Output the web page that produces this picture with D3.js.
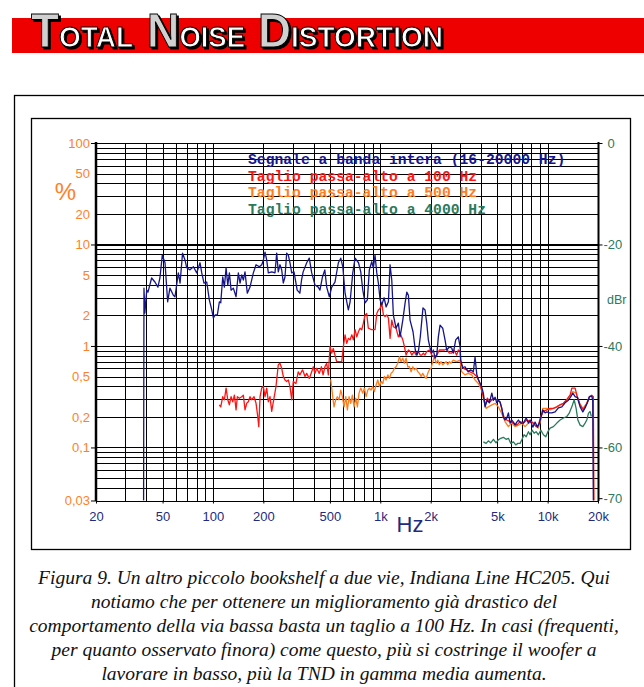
<!DOCTYPE html>
<html lang="it">
<head>
<meta charset="UTF-8">
<script src="https://cdn.jsdelivr.net/npm/d3@7"></script>
<title>Total Noise Distortion</title>
<style>
    body { margin:0; background:#fff; }
    svg text { font-family:"Liberation Sans", Arial, sans-serif; }
</style>
</head>
<body>
<script>
// --- data (frequency in Hz, level in dBr; 0 dBr = 100 %) ---
const fullBand = [[38.5,-70.5],[38.7,-28.6],[39.2,-33.5],[40.2,-29.0],[40.9,-29.4],[43.0,-26.6],[45.0,-27.4],[46.9,-28.4],[48.2,-26.6],[49.8,-22.1],[51.7,-23.6],[53.6,-31.3],[55.3,-28.6],[58.0,-30.0],[59.3,-30.3],[62.1,-25.6],[63.6,-27.6],[65.8,-21.7],[68.1,-23.1],[69.7,-24.6],[72.9,-25.0],[76.4,-24.4],[80,-25.6],[83.7,-23.6],[85.7,-25.6],[88.4,-27.6],[91.8,-27.4],[95.1,-30.9],[98.4,-32.9],[100.6,-34.5],[103,-33.9],[106.2,-33.9],[109.2,-31.3],[111.3,-31.5],[114.4,-26.4],[117,-28.4],[119.8,-24.6],[122.6,-28.0],[125.4,-25.6],[128.3,-29.0],[132.4,-28.6],[137.4,-30.3],[141.8,-25.6],[145.2,-27.6],[148.6,-26.0],[151.9,-27.0],[155.4,-25.4],[160.4,-29.6],[166.5,-28.4],[174.3,-25.6],[180.9,-24.0],[189.3,-24.4],[195.7,-24.0],[200,-23.1],[204.7,-21.5],[209.6,-23.1],[214.2,-25.6],[224.6,-25.4],[234.8,-25.6],[240.4,-21.7],[245.7,-25.4],[251.5,-24.0],[257.5,-25.0],[263.2,-27.6],[269.4,-26.4],[275.8,-21.7],[282,-22.1],[288.6,-23.6],[295.5,-25.6],[305,-25.4],[318.6,-29.0],[330.6,-29.6],[338.4,-27.0],[345.9,-25.4],[363.3,-23.6],[376.3,-22.7],[389.2,-25.6],[407.2,-28.0],[425.9,-28.4],[435.9,-29.0],[451.2,-26.4],[466,-25.0],[478.3,-28.4],[496,-30.3],[512.6,-28.4],[536,-27.4],[561.6,-23.6],[580.5,-22.7],[597,-24.4],[615.9,-29.6],[644.3,-32.9],[660,-31.3],[684.7,-25.6],[706.8,-22.7],[741,-23.6],[764.3,-25.4],[786,-29.0],[811,-31.5],[837,-30.9],[860,-25.0],[889,-23.4],[908.7,-24.6],[930,-22.1],[953,-25.6],[974,-27.6],[997,-30.9],[1021,-31.9],[1054,-30.5],[1083,-32.3],[1118,-31.3],[1144,-24.0],[1171,-27.0],[1197,-33.9],[1242,-36.5],[1282,-35.5],[1313,-38.2],[1363,-34.9],[1407,-31.5],[1440,-29.4],[1472,-30.0],[1506,-34.9],[1569,-37.2],[1619,-40.8],[1657,-41.8],[1694,-40.8],[1734,-38.2],[1799,-32.5],[1851,-32.9],[1895,-35.5],[1937,-38.8],[1983,-40.4],[2031,-41.4],[2076,-40.8],[2125,-42.4],[2175,-41.8],[2223,-38.2],[2276,-35.9],[2361,-36.5],[2437,-38.8],[2495,-40.8],[2585,-40.2],[2672,-40.4],[2731,-41.4],[2823,-38.8],[2926,-38.2],[3000,-40.2],[3025,-42.8],[3108,-44.3],[3207,-44.1],[3354,-45.1],[3466,-44.7],[3597,-45.1],[3684,-42.2],[3772,-45.6],[3856,-46.6],[4039,-48.1],[4129,-49.3],[4226,-52.0],[4362,-50.7],[4483,-51.2],[4640,-49.3],[4743,-50.7],[4853,-50.1],[4966,-51.2],[5076,-50.7],[5196,-51.1],[5318,-52.2],[5436,-54.0],[5564,-54.6],[5702,-54.2],[5828,-53.2],[5967,-55.2],[6108,-54.6],[6243,-55.0],[6390,-55.6],[6542,-55.0],[6689,-54.6],[6914,-55.2],[7164,-55.2],[7443,-54.2],[7678,-55.2],[7860,-54.6],[8156,-56.0],[8413,-55.0],[8690,-56.0],[8926,-55.2],[9099,-54.2],[9352,-52.6],[9662,-53.2],[9890,-53.0],[10250,-53.2],[10600,-53.2],[11090,-53.0],[11600,-52.2],[12160,-52.0],[12720,-51.2],[13310,-50.7],[13760,-50.0],[14140,-49.3],[14600,-50.0],[15070,-50.2],[15640,-52.0],[16230,-53.0],[16740,-52.2],[17280,-51.2],[17760,-50.0],[18350,-49.9],[18600,-50.7],[18760,-70.5]];

const hp100 = [[109.2,-51.6],[111.3,-52.0],[114.4,-50.0],[117,-50.6],[119.8,-48.3],[122.6,-50.6],[125.3,-51.6],[128.3,-50.0],[131.3,-51.0],[134.3,-49.7],[137.4,-52.6],[139.9,-50.0],[143.8,-50.3],[148.6,-50.0],[151.9,-49.7],[155.5,-52.6],[159.1,-51.3],[162.7,-51.0],[166.5,-50.0],[170.4,-50.6],[176,-50.0],[180.9,-51.3],[185.2,-53.9],[187.8,-55.9],[191.2,-50.0],[195.6,-48.3],[200,-48.0],[204.7,-50.0],[209.5,-48.3],[214.2,-51.0],[219.2,-50.0],[224.4,-52.9],[231.6,-50.3],[238,-48.0],[245.7,-43.7],[251.5,-43.4],[257.5,-44.4],[263.2,-46.0],[269.4,-46.7],[275.8,-47.0],[282,-46.7],[288.6,-48.0],[295.5,-50.6],[302,-47.0],[313.1,-47.4],[323.2,-45.1],[330.6,-45.7],[343.1,-44.7],[354.9,-46.0],[363.3,-45.4],[376.3,-46.4],[389.2,-45.1],[397.8,-44.1],[407.2,-45.4],[416.8,-44.4],[431.8,-45.4],[444.9,-44.1],[455.1,-45.7],[466.8,-44.1],[478,-43.4],[489.2,-45.7],[500.7,-40.1],[512.6,-41.4],[523.9,-40.5],[536.1,-41.8],[548.7,-43.1],[569.5,-43.1],[588.6,-43.1],[601.7,-40.1],[615.9,-37.8],[630.4,-39.5],[644.3,-38.5],[660,-38.8],[675.6,-37.8],[690.5,-38.8],[706.8,-36.8],[723.4,-38.2],[740,-37.2],[756.8,-36.5],[775,-36.8],[792,-35.5],[811,-33.9],[830,-33.6],[848,-36.5],[889,-36.8],[930,-36.8],[953,-33.6],[974,-32.9],[997,-32.6],[1021,-31.6],[1044,-33.9],[1068,-34.2],[1093,-33.9],[1118,-34.5],[1144,-38.5],[1171,-34.9],[1197,-36.2],[1242,-36.5],[1282,-38.2],[1313,-37.5],[1363,-38.8],[1393,-40.1],[1426,-41.8],[1472,-40.8],[1507,-41.1],[1543,-41.8],[1593,-41.1],[1638,-41.8],[1691,-41.1],[1731,-41.8],[1769,-41.8],[1809,-41.4],[1851,-41.8],[1895,-41.1],[1964,-40.8],[2031,-41.8],[2096,-42.1],[2175,-41.8],[2254,-40.8],[2329,-40.8],[2404,-40.8],[2495,-40.6],[2585,-41.4],[2672,-41.4],[2757,-40.8],[2862,-41.8],[2926,-40.8],[3000,-41.1],[3025,-43.4],[3134,-44.4],[3283,-44.7],[3435,-45.1],[3597,-45.4],[3772,-46.0],[3945,-47.4],[4129,-50.0],[4226,-51.6],[4362,-50.3],[4530,-51.0],[4743,-50.3],[4966,-50.6],[5196,-51.0],[5362,-52.9],[5511,-54.2],[5702,-54.6],[5967,-54.9],[6243,-55.2],[6542,-55.6],[6847,-54.9],[7164,-55.2],[7515,-54.6],[7860,-54.9],[8223,-55.2],[8531,-55.9],[8805,-55.6],[9099,-53.9],[9438,-52.9],[9890,-52.6],[10350,-52.3],[10830,-52.3],[11350,-52.0],[11870,-51.6],[12430,-51.3],[13020,-50.6],[13630,-49.7],[13950,-48.3],[14600,-48.3],[14950,-49.7],[15640,-51.6],[16360,-52.6],[17140,-51.3],[17760,-50.0],[18350,-49.7],[18760,-50.0],[18890,-70.5]];

const hp500 = [[505.6,-46.6],[519.6,-50.0],[529,-52.0],[541.4,-50.6],[553.6,-50.0],[566.5,-50.6],[580.5,-48.7],[593.4,-50.0],[607.5,-52.0],[621.9,-50.0],[635.8,-52.6],[650.6,-50.0],[665.6,-51.3],[680.9,-49.7],[697,-52.0],[713.6,-50.3],[729.8,-52.0],[746.2,-49.3],[764.3,-48.3],[785.8,-49.3],[803,-48.3],[822.7,-50.0],[842,-48.7],[860.6,-48.3],[880.5,-48.7],[901,-48.0],[921.5,-49.0],[943.8,-47.7],[966,-46.7],[988,-48.0],[1011,-47.0],[1035,-47.4],[1058,-46.0],[1083,-46.7],[1109,-45.7],[1134,-46.4],[1160,-45.4],[1188,-45.1],[1214,-44.4],[1242,-44.1],[1272,-43.4],[1301,-42.1],[1331,-43.1],[1363,-42.4],[1393,-43.4],[1426,-42.4],[1460,-44.1],[1492,-44.1],[1528,-45.1],[1564,-44.1],[1599,-44.7],[1638,-44.4],[1676,-45.1],[1714,-45.4],[1752,-46.0],[1794,-45.4],[1834,-46.0],[1878,-46.4],[1922,-45.4],[1964,-44.7],[2011,-44.4],[2059,-43.1],[2105,-42.1],[2155,-43.4],[2206,-42.8],[2254,-43.7],[2308,-43.1],[2361,-43.7],[2415,-43.4],[2471,-43.1],[2530,-43.7],[2585,-43.1],[2646,-43.4],[2727,-42.8],[2862,-43.1],[3000,-42.8],[3067,-45.1],[3207,-45.7],[3354,-45.4],[3514,-45.7],[3684,-46.7],[3856,-47.4],[4039,-48.7],[4129,-50.3],[4289,-52.3],[4423,-52.0],[4640,-51.6],[4853,-51.3],[5076,-52.0],[5318,-53.3],[5564,-54.9],[5828,-55.9],[6108,-55.2],[6390,-55.9],[6689,-55.6],[7010,-55.2],[7330,-55.9],[7678,-55.2],[8044,-54.9],[8418,-55.6],[8805,-56.2],[9099,-54.6],[9352,-52.3],[9890,-52.3],[10350,-52.6],[10830,-52.3],[11350,-52.0],[11870,-51.6],[12430,-51.3],[13020,-50.6],[13630,-49.7],[14140,-49.0],[14800,-49.3],[15490,-51.3],[16230,-52.3],[17140,-51.3],[17930,-49.9],[18600,-50.0],[18860,-70.5]];

const hp4000 = [[4129,-58.9],[4289,-59.2],[4423,-58.7],[4570,-59.1],[4743,-58.4],[4918,-59.1],[5076,-58.5],[5246,-58.2],[5436,-58.0],[5645,-58.4],[5828,-58.2],[6025,-59.2],[6243,-58.9],[6450,-59.5],[6635,-59.2],[6847,-59.2],[7010,-58.5],[7233,-57.5],[7443,-57.9],[7678,-56.9],[7860,-57.5],[8078,-56.6],[8303,-57.2],[8531,-56.9],[8805,-57.5],[9099,-56.6],[9438,-57.5],[9755,-57.9],[10030,-56.9],[10350,-56.2],[10830,-55.9],[11350,-55.2],[11870,-54.6],[12430,-54.2],[13020,-53.9],[13440,-53.3],[13950,-52.0],[14410,-50.6],[14800,-52.3],[15160,-54.6],[15640,-55.6],[16230,-55.9],[16740,-55.2],[17140,-54.6],[17530,-53.3],[17930,-52.9],[18250,-53.9]];

const seriesNames = ["Segnale a banda intera (16-20000 Hz)", "Taglio passa-alto a 100 Hz", "Taglio passa-alto a 500 Hz", "Taglio passa-alto a 4000 Hz"];
const seriesColors = ["#15158a", "#ff1414", "#ff7d1e", "#2b7a5d"];

const pctTicks = [100, 50, 20, 10, 5, 2, 1, 0.5, 0.2, 0.1, 0.03];
const pctLabels = ["100", "50", "20", "10", "5", "2", "1", "0,5", "0,2", "0,1", "0,03"];
const freqTicks = [20, 50, 100, 200, 500, 1000, 2000, 5000, 10000, 20000];
const freqLabels = ["20", "50", "100", "200", "500", "1k", "2k", "5k", "10k", "20k"];
const dbTicks = [0, -20, -40, -60, -70];

const caption = [
    "Figura 9. Un altro piccolo bookshelf a due vie, Indiana Line HC205. Qui",
    "notiamo che per ottenere un miglioramento già drastico del",
    "comportamento della via bassa basta un taglio a 100 Hz. In casi (frequenti,",
    "per quanto osservato finora) come questo, più si costringe il woofer a",
    "lavorare in basso, più la TND in gamma media aumenta."
];

// --- page ---
var W = 644, H = 687;
var svg = d3.select("body").append("svg").attr("width", W).attr("height", H);

// black drop shadow for the header lettering
svg.append("defs").append("filter").attr("id", "shadow")
    .attr("x", "-10%").attr("y", "-10%").attr("width", "130%").attr("height", "130%")
    .append("feDropShadow").attr("dx", 2).attr("dy", 2).attr("stdDeviation", 0)
    .attr("flood-color", "#000").attr("flood-opacity", 1);

// header bar
svg.append("rect").attr("x", 12).attr("y", 18).attr("width", W - 12).attr("height", 35).attr("fill", "#ee0000");

var words = [["T", "OTAL", 31, 102], ["N", "OISE", 147, 98], ["D", "ISTORTION", 258, 185]];
words.forEach(function(w) {
    var t = svg.append("text")
        .attr("x", w[2]).attr("y", 47)
        .attr("textLength", w[3]).attr("lengthAdjust", "spacingAndGlyphs")
        .attr("filter", "url(#shadow)")
        .style("font-family", "'Liberation Sans Narrow','Liberation Sans',Arial")
        .style("font-weight", "bold")
        .attr("stroke", "#000").attr("stroke-width", 1);
    t.append("tspan").attr("font-size", 49).attr("fill", "#d0d0d0").text(w[0]);
    t.append("tspan").attr("font-size", 30).attr("fill", "#fff").text(w[1]);
});

// frames
svg.append("rect").attr("x", 14.5).attr("y", 95.5).attr("width", 700).attr("height", 700)
    .attr("fill", "none").attr("stroke", "#000").attr("stroke-width", 1.3);
svg.append("rect").attr("x", 31.5).attr("y", 118.5).attr("width", 599).attr("height", 431)
    .attr("fill", "none").attr("stroke", "#000").attr("stroke-width", 1.3);

// --- scales ---
var x = d3.scaleLog().domain([20, 20000]).range([96, 598]);
var yPct = d3.scaleLog().domain([0.03, 100]).range([500.5, 143]);
var yDb = d3.scaleLinear().domain([20 * Math.log10(0.03 / 100), 0]).range([500.5, 143]);

// grid
var vGrid = [], hGrid = [];
[10, 100, 1000, 10000].forEach(function(dec) {
    for (var k = 1; k <= 9; k++) { var v = dec * k; if (v >= 20 && v <= 20000) vGrid.push(v); }
});
vGrid.push(20000);
[0.01, 0.1, 1, 10].forEach(function(dec) {
    for (var k = 1; k <= 9; k++) { var v = dec * k; if (v >= 0.0299 && v <= 100) hGrid.push(+v.toPrecision(3)); }
});
hGrid.push(100);

var grid = svg.append("g").attr("stroke", "#000").attr("shape-rendering", "crispEdges");
grid.selectAll(".v").data(vGrid).enter().append("line")
    .attr("x1", d => Math.round(x(d)) + 0.5).attr("x2", d => Math.round(x(d)) + 0.5)
    .attr("y1", yPct(100)).attr("y2", yPct(0.03)).attr("stroke-width", 1);
grid.selectAll(".h").data(hGrid).enter().append("line")
    .attr("x1", x(20)).attr("x2", x(20000))
    .attr("y1", d => Math.round(yPct(d)) + 0.5).attr("y2", d => Math.round(yPct(d)) + 0.5)
    .attr("stroke-width", d => d === 10 ? 2 : 1);

// axes lines (thick)
svg.append("line").attr("x1", 96).attr("x2", 96).attr("y1", 142).attr("y2", 501)
    .attr("stroke", "#000").attr("stroke-width", 2.5);
svg.append("line").attr("x1", 598.5).attr("x2", 598.5).attr("y1", 142).attr("y2", 501)
    .attr("stroke", "#000").attr("stroke-width", 2);

// left axis: % labels
var leftAx = svg.append("g").attr("transform", "translate(96,0)")
    .call(d3.axisLeft(yPct).tickValues(pctTicks).tickSize(0).tickPadding(6)
        .tickFormat((d, i) => pctLabels[i]));
leftAx.select(".domain").remove();
leftAx.selectAll("text").attr("fill", "#ff7f2a").style("font-size", "13px");
svg.append("g").attr("transform", "translate(96,0)")
    .call(d3.axisLeft(yPct).tickValues([100, 10, 1, 0.1, 0.03]).tickSize(5).tickFormat(""))
    .call(g => g.select(".domain").remove())
    .selectAll("line").attr("stroke", "#000");
svg.append("text").attr("x", 65.5).attr("y", 200).attr("text-anchor", "middle")
    .attr("fill", "#ff7f2a").style("font-size", "24px").text("%");

// bottom axis
var botAx = svg.append("g").attr("transform", "translate(0,500.5)")
    .call(d3.axisBottom(x).tickValues(freqTicks).tickSize(3).tickPadding(8)
        .tickFormat((d, i) => freqLabels[i]));
botAx.select(".domain").remove();
botAx.selectAll("line").attr("stroke", "#000");
botAx.selectAll("text").attr("fill", "#1f2a80").style("font-size", "13px");
svg.append("text").attr("x", 396.5).attr("y", 532).attr("fill", "#1f2a80")
    .style("font-size", "22px").text("Hz");

// right axis: dBr
var rightAx = svg.append("g").attr("transform", "translate(598.5,0)")
    .call(d3.axisRight(yDb).tickValues(dbTicks).tickSize(4).tickPadding(2)
        .tickFormat(d => d === 0 ? "0" : "-" + Math.abs(d)));
rightAx.select(".domain").remove();
rightAx.selectAll("line").attr("stroke", "#000");
rightAx.selectAll("text").attr("fill", "#2b7a5d").style("font-size", "13px")
    .attr("x", d => d === 0 ? 9 : 5);
svg.append("text").attr("x", 607).attr("y", 304).attr("fill", "#2b7a5d")
    .style("font-size", "12.5px").text("dBr");

// --- curves ---
svg.append("clipPath").attr("id", "plotclip").append("rect")
    .attr("x", 96).attr("y", 143).attr("width", 502).attr("height", 357.5);
var line = d3.line().x(d => x(d[0])).y(d => yDb(d[1]));
var curves = svg.append("g").attr("clip-path", "url(#plotclip)").attr("fill", "none")
    .attr("stroke-width", 1.3).attr("stroke-linejoin", "round");
[[hp500, 2], [hp100, 1], [fullBand, 0], [hp4000, 3]].forEach(function(s) {
    curves.append("path").datum(s[0]).attr("stroke", seriesColors[s[1]]).attr("d", line);
});

// legend
svg.append("g").selectAll("text").data(seriesNames).enter().append("text")
    .attr("x", 248).attr("y", (d, i) => 164 + i * 16.7)
    .attr("fill", (d, i) => seriesColors[i])
    .style("font-family", "'Liberation Mono','Courier New',monospace")
    .style("font-weight", "bold").style("font-size", "14.7px")
    .attr("xml:space", "preserve")
    .text(d => d);

// caption
svg.append("g").selectAll("text").data(caption).enter().append("text")
    .attr("x", 324).attr("y", (d, i) => 584 + i * 24)
    .attr("text-anchor", "middle")
    .style("font-family", "'Liberation Serif','Times New Roman',serif")
    .style("font-style", "italic").style("font-size", "19.5px")
    .attr("fill", "#111")
    .text(d => d);
</script>
</body>
</html>
